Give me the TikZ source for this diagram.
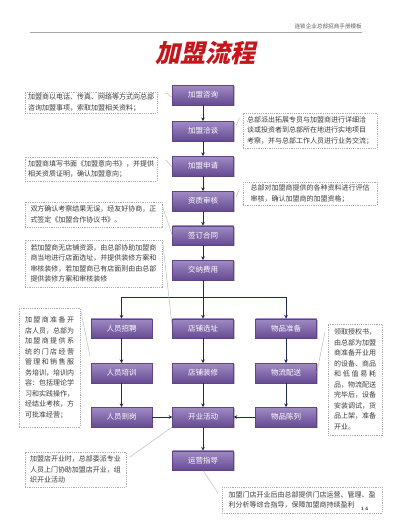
\documentclass[tikz,border=0pt]{standalone}
\usepackage{fontspec}
\newfontfamily\cjk{Noto Sans CJK SC}
\newfontfamily\titlefont[FakeSlant=0.22]{Noto Sans CJK SC}
\usetikzlibrary{arrows.meta,shadows}
\definecolor{arrowc}{HTML}{1E2A5C}
\definecolor{titlered}{HTML}{C4161C}
\definecolor{notetext}{HTML}{3C3C3C}
\definecolor{ptop}{HTML}{A08BC4}
\definecolor{pmid}{HTML}{8A6FB5}
\definecolor{pbot}{HTML}{664A92}
\definecolor{pedge}{HTML}{5E4588}
\ExplSyntaxOn
\NewDocumentCommand\spreadline{mm}{\hbox~to~#1{\tl_map_inline:nn{#2}{##1\hfil}\unskip}}
\ExplSyntaxOff
\tikzset{
  pbox/.style={rectangle, minimum width=61pt, minimum height=19.5pt, inner sep=0pt,
    draw=pedge, line width=0.4pt, top color=ptop, middle color=pmid, bottom color=pbot,
    text=white, font=\cjk\fontsize{7.5}{8}\selectfont,
    drop shadow={shadow xshift=1pt, shadow yshift=-1.2pt, fill=black!55, opacity=0.45}},
  note/.style={rectangle, draw=gray!65, line width=0.45pt, dash pattern=on 1.2pt off 1pt,
    fill=white, inner sep=0pt, text=notetext, align=left,
    font=\cjk\fontsize{7}{10.5}\selectfont},
  arr/.style={draw=arrowc, line width=0.9pt, -{Stealth[length=3.6pt,width=3.6pt]}},
  ln/.style={draw=arrowc, line width=0.9pt},
  lk/.style={draw=gray!60, line width=0.4pt}
}
\begin{document}
\begin{tikzpicture}[x=1pt,y=-1pt]
\fill[white] (0,0) rectangle (400,527);
\useasboundingbox (0,0) rectangle (400,527);

% header
\coordinate (hl) at (30,32.5);
\coordinate (hr) at (362,32.5);
\draw[gray!70, line width=0.6pt] (hl) -- (hr);
\node[anchor=south east, inner sep=0pt, text=gray!75!black, font=\cjk\fontsize{5.6}{6}\selectfont] (head) at (362,29) {连锁企业总部招商手册模板};

% title
\node[inner sep=0pt, text=titlered, font=\titlefont\bfseries\fontsize{25}{28}\selectfont] (title) at (205,52.5) {加盟流程};

% main column
\node[pbox] (c1) at (203,95) {加盟咨询};
\node[pbox] (c2) at (203,131) {加盟洽谈};
\node[pbox] (c3) at (203,166) {加盟申请};
\node[pbox] (c4) at (203,201) {资质审核};
\node[pbox] (c5) at (203,235.5) {签订合同};
\node[pbox] (c6) at (203,270) {交纳费用};

\node[pbox] (r11) at (121.5,328.5) {人员招聘};
\node[pbox] (r12) at (121.5,373) {人员培训};
\node[pbox] (r13) at (121.5,417) {人员到岗};
\node[pbox] (r21) at (203,328.5) {店铺选址};
\node[pbox] (r22) at (203,373) {店铺装修};
\node[pbox] (r23) at (203,417) {开业活动};
\node[pbox] (r31) at (286,328.5) {物品准备};
\node[pbox] (r32) at (286,373) {物流配送};
\node[pbox] (r33) at (286,417) {物品陈列};
\node[pbox] (c7) at (203,460.5) {运营指导};

% arrows
\draw[arr] (c1) -- (c2);
\draw[arr] (c2) -- (c3);
\draw[arr] (c3) -- (c4);
\draw[arr] (c4) -- (c5);
\draw[arr] (c5) -- (c6);
\coordinate (bj) at (203,297);
\draw[ln] (c6) -- (bj);
\draw[arr] (bj) -- (r21);
\draw[arr] (bj) -| (r11);
\draw[arr] (bj) -| (r31);
\draw[arr] (r11) -- (r12);
\draw[arr] (r12) -- (r13);
\draw[arr] (r21) -- (r22);
\draw[arr] (r22) -- (r23);
\draw[arr] (r31) -- (r32);
\draw[arr] (r32) -- (r33);
\draw[arr] (r13) -- (r23);
\draw[arr] (r33) -- (r23);
\draw[arr] (r23) -- (c7);

% notes
\node[note, minimum width=132pt, minimum height=21pt] (n1) at (91,102.5)
 {加盟商以电话、传真、网络等方式向总部\\咨询加盟事项，索取加盟相关资料；};
\node[note, minimum width=134pt, minimum height=35pt] (n2) at (310,130.5)
 {总部派出拓展专员与加盟商进行详细洽\\谈或投资者到总部所在地进行实地项目\\考察，并与总部工作人员进行业务交流；};
\node[note, minimum width=132pt, minimum height=24pt] (n3) at (91,169)
 {加盟商填写书面《加盟意向书》，并提供\\相关资质证明，确认加盟意向；};
\node[note, minimum width=134pt, minimum height=23pt] (n4) at (310,193.5)
 {总部对加盟商提供的各种资料进行评估\\审核，确认加盟商的加盟资格；};
\node[note, minimum width=137pt, minimum height=25pt] (n5) at (93.5,214.5)
 {双方确认考察结果无误，经友好协商，正\\式签定《加盟合作协议书》。};
\node[note, minimum width=137pt, minimum height=47pt] (n6) at (93.5,263.5)
 {若加盟商无店铺资源，由总部协助加盟商\\商当地进行店面选址，并提供装修方案和\\审核装修，若加盟商已有店面则由由总部\\提供装修方案和审核装修};
\node[note, minimum width=61pt, minimum height=119pt] (n7) at (49.5,367.5)
 {\spreadline{49pt}{加盟商准备开}\\店人员，总部为\\\spreadline{49pt}{加盟商提供系}\\\spreadline{49pt}{统的门店经营}\\\spreadline{49pt}{管理和销售服}\\务培训，培训内\\容：包括理论学\\习和实践操作，\\经结业考核，方\\可批准经营；};
\node[note, minimum width=54pt, minimum height=111pt] (n8) at (355,379.5)
 {领取授权书，\\由总部为加盟\\商准备开业用\\的设备、商品\\\spreadline{42pt}{和低值易耗}\\品，物流配送\\完毕后，设备\\安装调试，货\\品上架，准备\\开业。};
\node[note, minimum width=101pt, minimum height=35pt] (n9) at (75.5,469.5)
 {加盟店开业时，总部委派专业\\人员上门协助加盟店开业，组\\织开业活动};
\node[note, minimum width=160pt, minimum height=26pt] (n10) at (302,500)
 {加盟门店开业后由总部提供门店运营、管理、盈\\利分析等综合指导，保障加盟商持续盈利};
\node[inner sep=0pt, font=\bfseries\fontsize{5}{6}\selectfont, text=black!80] (pg) at (364.5,508.5) {14};

% note links
\coordinate (k1a) at (165,93);   \coordinate (k1b) at (172,97);
\draw[lk] (k1a) .. controls (168,92) and (169,97) .. (k1b);
\coordinate (k2a) at (236,126);  \coordinate (k2b) at (239.5,118);
\draw[lk] (k2a) -- (k2b);
\coordinate (k3a) at (166,160);  \coordinate (k3b) at (172,167);
\draw[lk] (k3a) -- (k3b);
\coordinate (k4a) at (236,197);  \coordinate (k4b) at (239.5,189);
\draw[lk] (k4a) -- (k4b);
\coordinate (k5a) at (163,208);
\draw[lk] (k5a) -- (c5.west);
\coordinate (k6a) at (163,245);  \coordinate (k6b) at (172,325);
\draw[lk] (k6a) -- (k6b);
\coordinate (k7a) at (81,312);   \coordinate (k7b) at (90,356);
\draw[lk] (k7a) -- (k7b);
\coordinate (k8a) at (325,332);
\draw[lk] (k8a) -- (r32.east);
\coordinate (k9a) at (130,457);
\draw[lk] (k9a) -- (r23.south west);
\coordinate (k10a) at (218,493);
\draw[lk] (c7.south) -- (k10a);
\end{tikzpicture}
\end{document}
